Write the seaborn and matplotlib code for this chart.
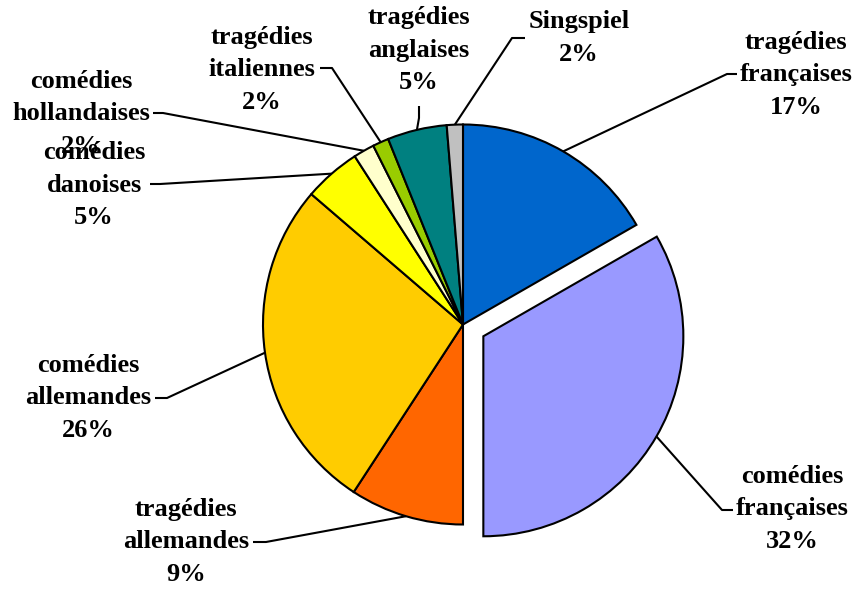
"""Pie chart: répartition du répertoire (tragédies / comédies)."""

import matplotlib

matplotlib.use("Agg")

import matplotlib.pyplot as plt
import numpy as np
import seaborn as sns

# --- data -----------------------------------------------------------------
genres = [
    "tragédies\nfrançaises",
    "comédies\nfrançaises",
    "tragédies\nallemandes",
    "comédies\nallemandes",
    "comédies\ndanoises",
    "comédies\nhollandaises",
    "tragédies\nitaliennes",
    "tragédies\nanglaises",
    "Singspiel",
]
shares = [16.7, 33.3, 9.2, 27.1, 4.6, 1.7, 1.3, 4.8, 1.3]
# percentages as printed in the labels
pct_labels = ["17%", "32%", "9%", "26%", "5%", "2%", "2%", "5%", "2%"]
colors = [
    "#0066CC", "#9999FF", "#FF6600", "#FFCC00", "#FFFF00",
    "#FFFFCC", "#99CC00", "#008080", "#C0C0C0",
]

# --- layout (pixels, origin top-left) ------------------------------------
W, H = 855, 589
center_px = (463, 324.5)
radius_px = 200
explode_px = [0, 23.5, 0, 0, 0, 0, 0, 0, 0]
# text centre, leader start next to the text, leader elbow
label_pos = [(796, 75), (792, 509), (186, 542), (88, 398), (94, 185),
             (81, 114), (262, 70), (419, 50), (579, 38)]
leader_start = [(737, 74), (733, 510), (253, 542), (155, 398), (150, 184),
                (153, 113), (320, 68), (419, 106), (525, 38)]
leader_elbow = [(727, 74), (722, 510), (266, 542), (167, 398), (160, 184),
                (163, 113), (332, 68), (419, 118), (512, 38)]


def px(p):
    return p[0], H - p[1]


sns.set_theme(style="white")
plt.rcParams["font.family"] = ["Liberation Serif", "DejaVu Serif"]

fig = plt.figure(figsize=(W / 100, H / 100), dpi=100)
ax = fig.add_axes([0, 0, 1, 1])
ax.set_xlim(0, W)
ax.set_ylim(0, H)
ax.set_aspect("equal")
ax.axis("off")

wedges, _ = ax.pie(
    shares,
    colors=colors,
    explode=explode_px,
    center=px(center_px),
    radius=radius_px,
    startangle=90,
    counterclock=False,
    frame=True,
    wedgeprops=dict(edgecolor="black", linewidth=1.5),
)
ax.set_xlim(0, W)
ax.set_ylim(0, H)
ax.axis("off")

for i, w in enumerate(wedges):
    theta = np.deg2rad((w.theta1 + w.theta2) / 2)
    cx, cy = w.center
    end = (cx + w.r * np.cos(theta), cy + w.r * np.sin(theta))
    s, e = px(leader_start[i]), px(leader_elbow[i])
    ax.plot([s[0], e[0], end[0]], [s[1], e[1], end[1]],
            color="black", linewidth=1.5, solid_capstyle="butt", zorder=3)
    tx, ty = px(label_pos[i])
    ax.text(tx, ty, f"{genres[i]}\n{pct_labels[i]}", ha="center", va="center",
            fontsize=19, fontweight="bold", linespacing=1.55, color="black",
            zorder=4)

fig.savefig("out.png", dpi=100)
plt.close(fig)
